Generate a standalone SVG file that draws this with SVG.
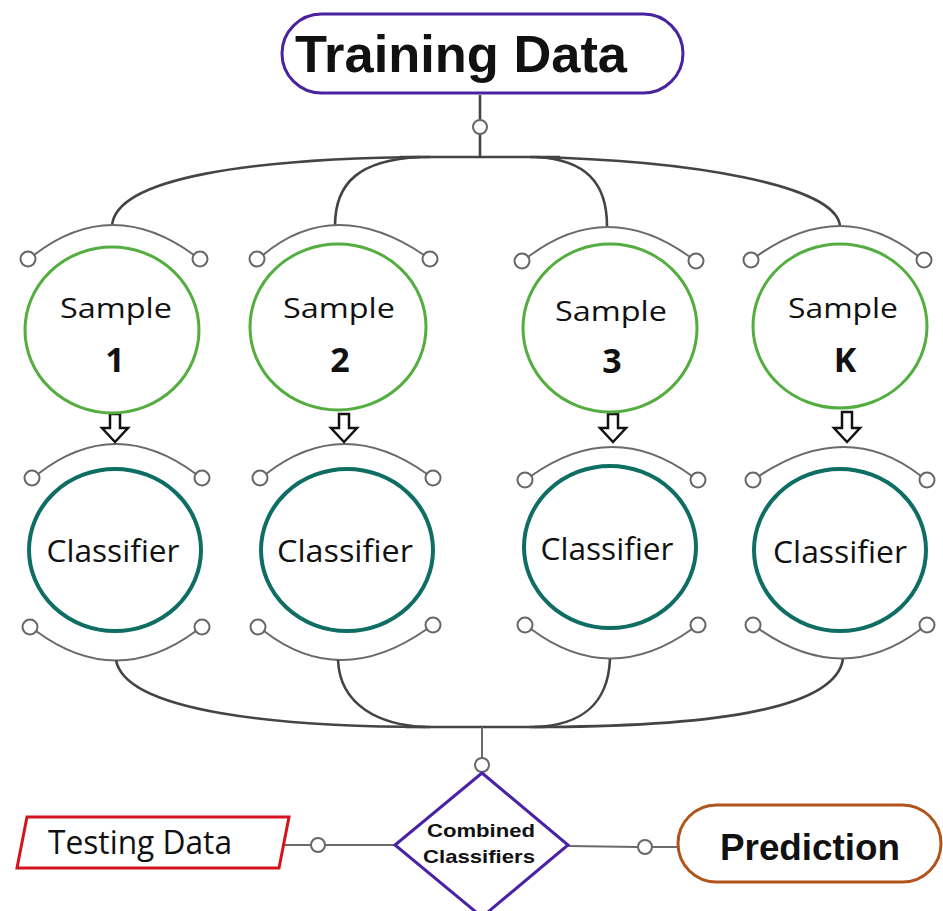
<svg xmlns="http://www.w3.org/2000/svg" width="943" height="911" viewBox="0 0 943 911">
<defs>
<style>
.bus{fill:none;stroke:#444;stroke-width:2.6}
.arc{fill:none;stroke:#6a6a6a;stroke-width:2}
.port{fill:#fff;stroke:#666;stroke-width:2}
.sample{fill:#fff;stroke:#53ae3f;stroke-width:3}
.clf{fill:#fff;stroke:#0f6e64;stroke-width:4}
.arrow{fill:#fff;stroke:#111;stroke-width:2.5;stroke-linejoin:miter}
.lbl{font-family:"Liberation Sans",Arial,sans-serif;fill:#111;text-anchor:middle}
.cal{font-family:"Open Sans","Noto Sans",sans-serif;fill:#111;text-anchor:middle}
.b{font-weight:bold}
</style>
</defs>
<rect width="943" height="911" fill="#fff"/>

<g id="connectors">
  <!-- top -->
  <path class="bus" d="M480,95 L480,120 M480,134 L480,157"/>
  <circle class="port" cx="480" cy="127" r="7"/>
  <path class="bus" d="M400,157 L560,157"/>
  <path class="bus" d="M112,226 C115,178 250,158 430,157"/>
  <path class="bus" d="M335,226 C335,182 360,160 420,157"/>
  <path class="bus" d="M607,226 C607,182 585,160 537,157"/>
  <path class="bus" d="M840,226 C836,185 690,160 530,157"/>
  <!-- sample top arcs -->
  <path class="arc" d="M34,255 Q112,195 194,255"/>
  <circle class="port" cx="28" cy="259" r="7.5"/><circle class="port" cx="200" cy="259" r="7.5"/>
  <path class="arc" d="M263,255 Q335,195 424,255"/>
  <circle class="port" cx="257" cy="259" r="7.5"/><circle class="port" cx="430" cy="259" r="7.5"/>
  <path class="arc" d="M528,257 Q607,197 690,257"/>
  <circle class="port" cx="522" cy="261" r="7.5"/><circle class="port" cx="696" cy="261" r="7.5"/>
  <path class="arc" d="M757,256 Q842,196 918,256"/>
  <circle class="port" cx="751" cy="260" r="7.5"/><circle class="port" cx="924" cy="260" r="7.5"/>
  <!-- classifier top arcs -->
  <path class="arc" d="M38,474 Q115,414 196,474"/>
  <circle class="port" cx="32" cy="478" r="7.5"/><circle class="port" cx="202" cy="478" r="7.5"/>
  <path class="arc" d="M266,474 Q343,414 427,474"/>
  <circle class="port" cx="260" cy="478" r="7.5"/><circle class="port" cx="433" cy="478" r="7.5"/>
  <path class="arc" d="M531,476 Q613,418 692,476"/>
  <circle class="port" cx="525" cy="480" r="7.5"/><circle class="port" cx="698" cy="480" r="7.5"/>
  <path class="arc" d="M759,476 Q847,418 921,476"/>
  <circle class="port" cx="753" cy="480" r="7.5"/><circle class="port" cx="927" cy="480" r="7.5"/>
  <!-- classifier bottom arcs -->
  <path class="arc" d="M36,631 Q116,690 196,631"/>
  <circle class="port" cx="30" cy="627" r="7.5"/><circle class="port" cx="202" cy="627" r="7.5"/>
  <path class="arc" d="M264,631 Q340,690 427,629"/>
  <circle class="port" cx="258" cy="627" r="7.5"/><circle class="port" cx="433" cy="625" r="7.5"/>
  <path class="arc" d="M531,629 Q610,688 692,629"/>
  <circle class="port" cx="525" cy="625" r="7.5"/><circle class="port" cx="698" cy="625" r="7.5"/>
  <path class="arc" d="M759,629 Q843,688 921,629"/>
  <circle class="port" cx="753" cy="625" r="7.5"/><circle class="port" cx="927" cy="625" r="7.5"/>
  <!-- bottom bus -->
  <path class="bus" d="M116,660 C125,712 280,727 430,727"/>
  <path class="bus" d="M338,660 C340,706 380,725 425,727"/>
  <path class="bus" d="M610,659 C608,706 580,725 535,727"/>
  <path class="bus" d="M843,659 C835,712 700,727 530,727"/>
  <path class="bus" d="M405,727 L545,727"/>
  <path class="arc" d="M482,727 L482,758"/>
  <circle class="port" cx="482" cy="765" r="7"/>
  <!-- bottom row -->
  <path class="arc" d="M284,845 L311,845 M325,845 L395,845"/>
  <circle class="port" cx="318" cy="845" r="7"/>
  <path class="arc" d="M568,846 L638,847 M652,847 L678,847"/>
  <circle class="port" cx="645" cy="847" r="7"/>
  <!-- block arrows -->
  <path class="arrow" d="M110,414 L120,414 L120,428 L128,428 L115,442 L102,428 L110,428 Z"/>
  <path class="arrow" d="M339,414 L349,414 L349,428 L357,428 L344,442 L331,428 L339,428 Z"/>
  <path class="arrow" d="M608,414 L618,414 L618,428 L626,428 L613,442 L600,428 L608,428 Z"/>
  <path class="arrow" d="M842,412 L852,412 L852,428 L860,428 L847,442 L834,428 L842,428 Z"/>
</g>

<g id="training-data">
  <rect x="282" y="14" width="401" height="79" rx="39.5" fill="#fff" stroke="#4a22a0" stroke-width="3"/>
  <text class="lbl b" x="461" y="72" font-size="52" textLength="332" lengthAdjust="spacingAndGlyphs">Training Data</text>
</g>

<g id="sample-1">
  <ellipse class="sample" cx="112" cy="330" rx="87" ry="83"/>
  <text class="cal" x="116" y="318" font-size="28" textLength="112" lengthAdjust="spacingAndGlyphs">Sample</text>
  <text class="cal b" x="115" y="372" font-size="34">1</text>
</g>
<g id="sample-2">
  <ellipse class="sample" cx="338" cy="327" rx="88" ry="83"/>
  <text class="cal" x="339" y="318" font-size="28" textLength="112" lengthAdjust="spacingAndGlyphs">Sample</text>
  <text class="cal b" x="340" y="372" font-size="34">2</text>
</g>
<g id="sample-3">
  <ellipse class="sample" cx="610" cy="328" rx="87" ry="84"/>
  <text class="cal" x="611" y="321" font-size="28" textLength="112" lengthAdjust="spacingAndGlyphs">Sample</text>
  <text class="cal b" x="612" y="373" font-size="34">3</text>
</g>
<g id="sample-k">
  <ellipse class="sample" cx="840" cy="326" rx="87" ry="82"/>
  <text class="cal" x="843" y="318" font-size="28" textLength="110" lengthAdjust="spacingAndGlyphs">Sample</text>
  <text class="cal b" x="845" y="372" font-size="34">K</text>
</g>

<g id="classifier-1">
  <ellipse class="clf" cx="115" cy="550" rx="86" ry="81"/>
  <text class="cal" x="113" y="562" font-size="31" textLength="133" lengthAdjust="spacingAndGlyphs">Classifier</text>
</g>
<g id="classifier-2">
  <ellipse class="clf" cx="347" cy="550" rx="86" ry="81"/>
  <text class="cal" x="345" y="562" font-size="31" textLength="136" lengthAdjust="spacingAndGlyphs">Classifier</text>
</g>
<g id="classifier-3">
  <ellipse class="clf" cx="610" cy="547" rx="86" ry="81"/>
  <text class="cal" x="607" y="560" font-size="31" textLength="133" lengthAdjust="spacingAndGlyphs">Classifier</text>
</g>
<g id="classifier-k">
  <ellipse class="clf" cx="840" cy="550" rx="86" ry="81"/>
  <text class="cal" x="840" y="563" font-size="31" textLength="134" lengthAdjust="spacingAndGlyphs">Classifier</text>
</g>

<g id="testing-data">
  <polygon points="27,817 289,817 279,868 17,868" fill="#fff" stroke="#d4141c" stroke-width="3"/>
  <text class="cal" x="140" y="854" font-size="32" textLength="184" lengthAdjust="spacingAndGlyphs">Testing Data</text>
</g>

<g id="combined-classifiers">
  <polygon points="482,773 568,845 482,917 395,845" fill="#fff" stroke="#4a22a8" stroke-width="3"/>
  <text class="lbl b" x="481" y="837" font-size="19" textLength="108" lengthAdjust="spacingAndGlyphs">Combined</text>
  <text class="lbl b" x="479" y="863" font-size="19" textLength="112" lengthAdjust="spacingAndGlyphs">Classifiers</text>
</g>

<g id="prediction">
  <rect x="678" y="805" width="263" height="77" rx="38.5" fill="#fff" stroke="#b0541a" stroke-width="3"/>
  <text class="lbl b" x="810" y="860" font-size="37" textLength="180" lengthAdjust="spacingAndGlyphs">Prediction</text>
</g>
</svg>
